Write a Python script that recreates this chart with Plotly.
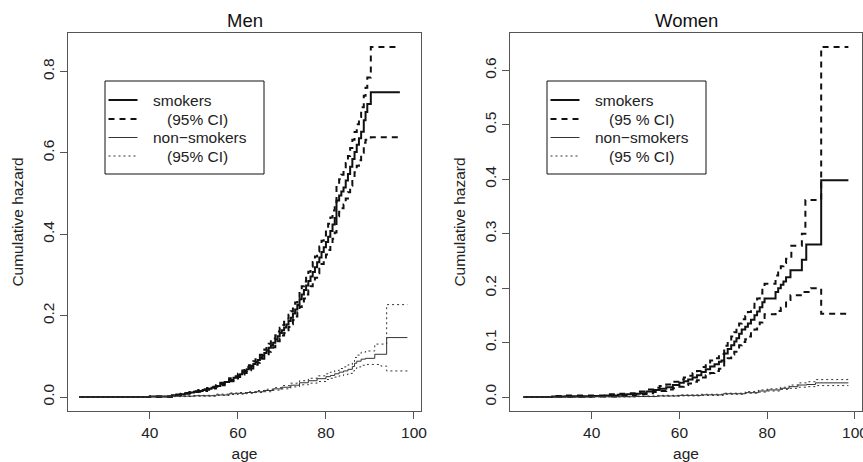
import plotly.graph_objects as go

# ---------------- data ----------------
men_smk_age = [24, 40, 45, 46, 47, 48, 49, 50, 51, 52, 53, 54, 55, 56, 57, 58, 59, 60, 60.5, 61, 61.5, 62, 62.5, 63, 63.5, 64, 64.5, 65, 65.5, 66, 66.5, 67, 67.5, 68, 68.5, 69, 69.5, 70, 70.5, 71, 71.5, 72, 72.5, 73, 73.5, 74, 74.5, 75, 75.5, 76, 76.5, 77, 77.5, 78, 78.5, 79, 79.5, 80, 80.5, 81, 81.5, 82, 82.4, 83, 83.5, 84, 84.5, 85, 85.5, 86, 86.5, 87, 87.5, 88, 88.6, 89, 89.4, 90.2, 96.8]
men_smk = [0, 0.001, 0.004, 0.005, 0.007, 0.009, 0.011, 0.013, 0.015, 0.017, 0.020, 0.023, 0.027, 0.032, 0.037, 0.042, 0.047, 0.053, 0.056, 0.060, 0.064, 0.068, 0.072, 0.076, 0.081, 0.086, 0.091, 0.096, 0.102, 0.108, 0.114, 0.121, 0.127, 0.133, 0.141, 0.149, 0.157, 0.164, 0.171, 0.178, 0.187, 0.195, 0.205, 0.215, 0.226, 0.240, 0.252, 0.263, 0.274, 0.285, 0.296, 0.307, 0.319, 0.331, 0.343, 0.356, 0.368, 0.381, 0.394, 0.408, 0.424, 0.440, 0.483, 0.495, 0.505, 0.515, 0.532, 0.548, 0.566, 0.585, 0.602, 0.620, 0.636, 0.652, 0.680, 0.700, 0.720, 0.749, 0.749]
men_smk_hi = [0, 0.0015, 0.005, 0.006, 0.008, 0.010, 0.012, 0.014, 0.017, 0.019, 0.022, 0.025, 0.029, 0.035, 0.040, 0.046, 0.051, 0.057, 0.061, 0.065, 0.069, 0.074, 0.078, 0.082, 0.088, 0.093, 0.098, 0.104, 0.110, 0.117, 0.123, 0.131, 0.137, 0.144, 0.152, 0.161, 0.170, 0.177, 0.185, 0.192, 0.202, 0.211, 0.221, 0.232, 0.244, 0.259, 0.272, 0.284, 0.296, 0.308, 0.320, 0.332, 0.345, 0.357, 0.370, 0.384, 0.397, 0.411, 0.426, 0.441, 0.458, 0.475, 0.522, 0.535, 0.546, 0.557, 0.575, 0.592, 0.612, 0.632, 0.651, 0.670, 0.688, 0.712, 0.740, 0.760, 0.785, 0.860, 0.860]
men_smk_lo = [0, 0.0005, 0.003, 0.004, 0.006, 0.008, 0.010, 0.012, 0.013, 0.015, 0.018, 0.021, 0.025, 0.029, 0.034, 0.039, 0.043, 0.049, 0.052, 0.055, 0.059, 0.063, 0.066, 0.070, 0.075, 0.079, 0.084, 0.088, 0.094, 0.099, 0.105, 0.111, 0.117, 0.122, 0.130, 0.137, 0.144, 0.151, 0.157, 0.164, 0.172, 0.179, 0.189, 0.198, 0.208, 0.221, 0.232, 0.242, 0.252, 0.262, 0.272, 0.282, 0.293, 0.304, 0.315, 0.327, 0.338, 0.350, 0.361, 0.374, 0.389, 0.404, 0.444, 0.455, 0.464, 0.473, 0.488, 0.503, 0.519, 0.537, 0.552, 0.568, 0.582, 0.600, 0.625, 0.632, 0.635, 0.638, 0.638]

men_non_age = [24, 40, 45, 50, 55, 58, 60, 62, 64, 66, 68, 70, 72, 74, 76, 78, 80, 81, 82, 83, 84, 85, 86, 86.5, 87, 88, 89, 91.1, 92.5, 93.8, 98.5]
men_non = [0, 0.001, 0.002, 0.003, 0.005, 0.008, 0.009, 0.011, 0.013, 0.016, 0.020, 0.024, 0.029, 0.035, 0.040, 0.045, 0.050, 0.053, 0.057, 0.061, 0.064, 0.068, 0.075, 0.083, 0.088, 0.093, 0.095, 0.105, 0.105, 0.146, 0.146]
men_non_hi = [0, 0.0015, 0.003, 0.004, 0.007, 0.010, 0.011, 0.013, 0.016, 0.019, 0.023, 0.028, 0.034, 0.040, 0.046, 0.052, 0.057, 0.061, 0.065, 0.070, 0.074, 0.079, 0.087, 0.097, 0.103, 0.110, 0.113, 0.130, 0.130, 0.227, 0.227]
men_non_lo = [0, 0.0005, 0.001, 0.002, 0.004, 0.006, 0.007, 0.009, 0.011, 0.013, 0.017, 0.020, 0.025, 0.030, 0.034, 0.038, 0.043, 0.046, 0.049, 0.052, 0.055, 0.058, 0.064, 0.070, 0.074, 0.078, 0.080, 0.080, 0.076, 0.064, 0.064]

wom_smk_age = [24.5, 31, 34, 40, 43, 46, 48, 50, 51, 52.5, 54, 55.5, 57, 58.5, 60, 61, 62, 63, 64, 65, 66, 67, 68, 69, 69.6, 70.2, 71, 71.8, 72.5, 73, 73.6, 74.2, 75, 75.6, 76.3, 77.1, 77.7, 78.3, 78.9, 79.4, 81.9, 82.5, 83.1, 83.7, 84.3, 85.3, 87.9, 88.9, 92.3, 98.5]
wom_smk = [0, 0.001, 0.0015, 0.002, 0.003, 0.004, 0.005, 0.006, 0.007, 0.010, 0.013, 0.015, 0.018, 0.022, 0.026, 0.029, 0.032, 0.036, 0.040, 0.046, 0.051, 0.056, 0.060, 0.065, 0.067, 0.080, 0.088, 0.095, 0.102, 0.108, 0.116, 0.124, 0.129, 0.135, 0.142, 0.150, 0.157, 0.165, 0.174, 0.181, 0.193, 0.200, 0.206, 0.212, 0.220, 0.233, 0.252, 0.280, 0.398, 0.398]
wom_smk_hi_age = [24.5, 31, 34, 40, 43, 46, 48, 50, 51, 52.5, 54, 55.5, 57, 58.5, 60, 61, 62, 63, 64, 65, 66, 67, 68, 69, 69.6, 70.2, 71, 71.8, 72.5, 73, 73.6, 74.2, 75, 75.6, 76.3, 77.1, 77.7, 78.3, 78.9, 79.4, 81.9, 82.5, 83.1, 83.7, 84.3, 85.5, 87.9, 88.7, 92.3, 98.5]
wom_smk_hi = [0, 0.002, 0.003, 0.003, 0.005, 0.006, 0.007, 0.009, 0.010, 0.014, 0.017, 0.020, 0.023, 0.028, 0.032, 0.036, 0.039, 0.044, 0.048, 0.055, 0.061, 0.067, 0.071, 0.077, 0.079, 0.094, 0.103, 0.111, 0.119, 0.126, 0.135, 0.143, 0.149, 0.156, 0.164, 0.173, 0.181, 0.190, 0.200, 0.208, 0.223, 0.231, 0.240, 0.246, 0.254, 0.278, 0.300, 0.362, 0.643, 0.643]
wom_smk_lo_age = [24.5, 31, 40, 46, 48, 50, 51, 52.5, 54, 55.5, 57, 58.5, 60, 61, 62, 63, 64, 65, 66, 67, 68, 69, 69.6, 70.2, 71, 71.8, 72.5, 73, 73.6, 74.2, 75, 75.6, 76.3, 77.1, 77.7, 78.3, 78.9, 79.4, 81.9, 83.1, 84.3, 85.3, 87.9, 90, 92.3, 98.5]
wom_smk_lo = [0, 0.0005, 0.001, 0.002, 0.003, 0.004, 0.005, 0.007, 0.009, 0.011, 0.014, 0.016, 0.019, 0.022, 0.025, 0.028, 0.031, 0.036, 0.040, 0.044, 0.048, 0.052, 0.054, 0.065, 0.071, 0.078, 0.083, 0.088, 0.095, 0.101, 0.106, 0.111, 0.117, 0.124, 0.130, 0.137, 0.145, 0.152, 0.158, 0.164, 0.178, 0.187, 0.193, 0.200, 0.153, 0.153]

wom_non_age = [24.5, 40, 50, 55, 60, 65, 70, 75, 78, 80, 83, 85, 87, 89, 91, 98.5]
wom_non = [0, 0.0005, 0.001, 0.002, 0.003, 0.004, 0.006, 0.008, 0.011, 0.013, 0.016, 0.019, 0.022, 0.023, 0.026, 0.026]
wom_non_hi = [0, 0.001, 0.002, 0.003, 0.004, 0.005, 0.007, 0.010, 0.013, 0.015, 0.018, 0.022, 0.026, 0.028, 0.032, 0.032]
wom_non_lo = [0, 0.0002, 0.0007, 0.0015, 0.002, 0.003, 0.005, 0.007, 0.009, 0.011, 0.014, 0.016, 0.018, 0.019, 0.021, 0.021]

x_ticks = [40, 60, 80, 100]
men_y_ticks = [0.0, 0.2, 0.4, 0.6, 0.8]
wom_y_ticks = [0.0, 0.1, 0.2, 0.3, 0.4, 0.5, 0.6]
men_labels = ["smokers", "(95% CI)", "non\u2212smokers", "(95% CI)"]
wom_labels = ["smokers", "(95 % CI)", "non\u2212smokers", "(95 % CI)"]
panel_titles = ["Men", "Women"]

# ---------------- figure ----------------
FONT = "Liberation Sans, Arial, Helvetica, sans-serif"
W, H = 863, 462
TXT = "#222"
fig = go.Figure()

STYLES = [dict(width=2, dash="solid", color="#111"),
          dict(width=2, dash="6px,5px", color="#111"),
          dict(width=1, dash="solid", color="#333"),
          dict(width=1, dash="2px,3px", color="#333")]

def step(x, y, xa, ya, style):
    fig.add_trace(go.Scatter(x=x, y=y, xaxis=xa, yaxis=ya, mode="lines",
                             line=dict(shape="hv", **STYLES[style]),
                             showlegend=False, hoverinfo="skip"))

step(men_smk_age, men_smk, "x", "y", 0)
step(men_smk_age, men_smk_hi, "x", "y", 1)
step(men_smk_age, men_smk_lo, "x", "y", 1)
step(men_non_age, men_non, "x", "y", 2)
step(men_non_age, men_non_hi, "x", "y", 3)
step(men_non_age, men_non_lo, "x", "y", 3)

step(wom_smk_age, wom_smk, "x2", "y2", 0)
step(wom_smk_hi_age, wom_smk_hi, "x2", "y2", 1)
step(wom_smk_lo_age, wom_smk_lo, "x2", "y2", 1)
step(wom_non_age, wom_non, "x2", "y2", 2)
step(wom_non_age, wom_non_hi, "x2", "y2", 3)
step(wom_non_age, wom_non_lo, "x2", "y2", 3)

# panel geometry in pixels
panels = [dict(x0=68, x1=421), dict(x0=510, x1=862)]
ptop, pbot = 33, 411

def px(x):
    return x / W

def py(y):
    return 1 - y / H

axis_common = dict(showgrid=False, zeroline=False, showline=True, mirror=True,
                   linecolor="#555", linewidth=1, ticks="outside", ticklen=7,
                   tickcolor="#555", automargin=False, ticklabeloverflow="allow",
                   tickfont=dict(size=15.5, color=TXT, family=FONT))

shapes, annotations = [], []
legend_sets = [(men_labels, 105, 264), (wom_labels, 547, 706)]
row_y = [100, 119, 137.5, 156]
for (labels, lx0, lx1) in legend_sets:
    shapes.append(dict(type="rect", xref="paper", yref="paper",
                       x0=px(lx0), x1=px(lx1), y0=py(174), y1=py(81),
                       line=dict(color="#111", width=1), fillcolor="white", layer="above"))
    for i, lab in enumerate(labels):
        st = STYLES[i]
        shapes.append(dict(type="line", xref="paper", yref="paper",
                           x0=px(lx0 + 3.5), x1=px(lx0 + 32.5), y0=py(row_y[i]), y1=py(row_y[i]),
                           line=dict(color=st["color"], width=st["width"], dash=st["dash"]),
                           layer="above"))
        tx = lx0 + 46 if i % 2 == 0 else lx0 + 59.5
        annotations.append(dict(text=lab, x=px(tx), y=py(row_y[i]), xref="paper", yref="paper",
                                xanchor="left", yanchor="middle", showarrow=False,
                                font=dict(size=15.5, family=FONT, color=TXT)))

for p, t in zip(panels, panel_titles):
    annotations.append(dict(text=t, x=px((p["x0"] + p["x1"]) / 2), y=py(21), xref="paper", yref="paper",
                            xanchor="center", yanchor="middle", showarrow=False,
                            font=dict(size=18.5, family=FONT, color="#111")))

fig.update_layout(
    width=W, height=H, margin=dict(l=0, r=0, t=0, b=0, autoexpand=False),
    paper_bgcolor="white", plot_bgcolor="white",
    font=dict(family=FONT, size=15.5, color=TXT),
    showlegend=False,
    xaxis=dict(domain=[px(panels[0]["x0"]), px(panels[0]["x1"])], range=[21.4, 101.6], tickvals=x_ticks,
               title=dict(text="age", standoff=8, font=dict(size=15.5)), anchor="y", **axis_common),
    yaxis=dict(domain=[py(pbot), py(ptop)], range=[-0.0344, 0.8944], tickvals=men_y_ticks,
               tickformat=".1f", tickangle=-90, anchor="x",
               title=dict(text="Cumulative hazard", standoff=12, font=dict(size=15.5)), **axis_common),
    xaxis2=dict(domain=[px(panels[1]["x0"]), px(panels[1]["x1"])], range=[21.4, 101.6], tickvals=x_ticks,
                title=dict(text="age", standoff=8, font=dict(size=15.5)), anchor="y2", **axis_common),
    yaxis2=dict(domain=[py(pbot), py(ptop)], range=[-0.0257, 0.6687], tickvals=wom_y_ticks,
                tickformat=".1f", tickangle=-90, anchor="x2",
                title=dict(text="Cumulative hazard", standoff=12, font=dict(size=15.5)), **axis_common),
    shapes=shapes,
    annotations=annotations,
)

# remove the browser's default 8px body margin so the figure sits at the page origin
fig.write_html("out.html", config={"displayModeBar": False},
               post_script="document.body.style.margin='0';")
